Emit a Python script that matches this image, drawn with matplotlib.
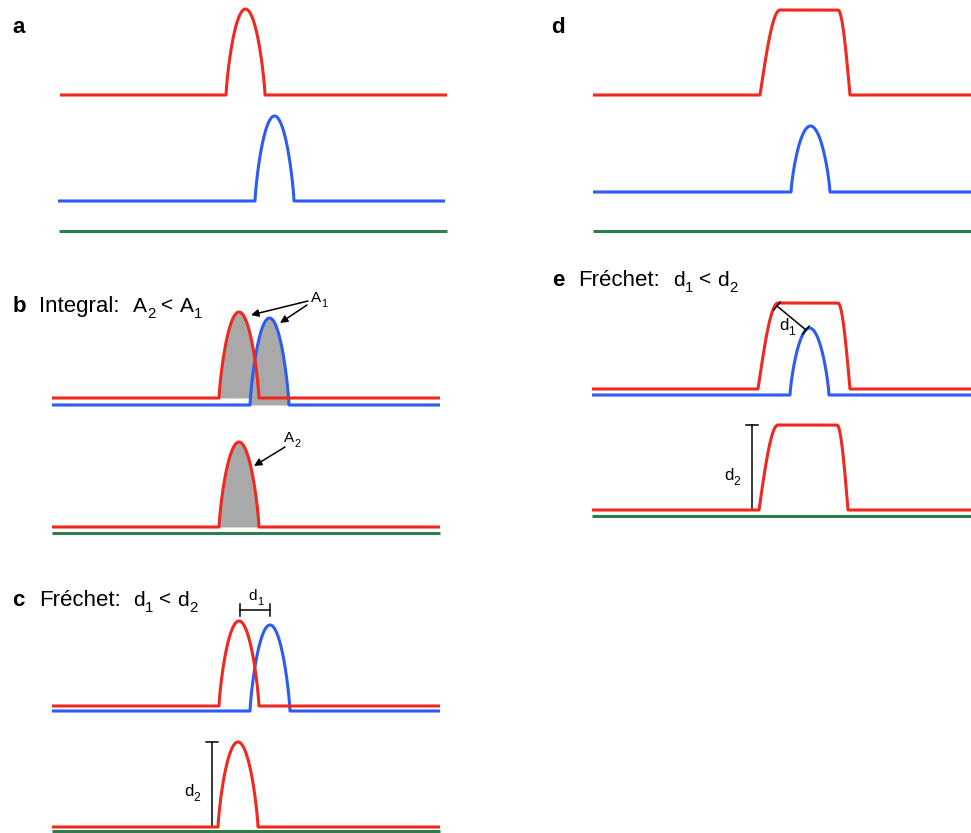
import numpy as np
import matplotlib
matplotlib.use("Agg")
import matplotlib.pyplot as plt

plt.rcParams["font.family"] = ["Liberation Sans", "DejaVu Sans"]

RED = "#f0281e"
BLUE = "#2b5cf4"
GREEN = "#2f7d4e"
GRAY = "#a9a9a9"
LW = 2.2

# ---- schematic traces (canvas units, y grows downward) ----
# bump traces: [baseline, line start, line end, pulse start, pulse end, pulse top]
a_red = [95, 60, 447, 226, 265, 9]
a_blue = [201, 58, 445, 255, 294, 116]
b1_red = [398, 52, 440, 219, 259, 312]
b1_blue = [405, 52, 440, 250, 289, 318]
b2_red = [527, 52, 440, 219, 259, 442]
c1_red = [706, 52, 440, 219, 259, 621]
c1_blue = [711, 52, 440, 250, 290, 625]
c2_red = [827, 52, 440, 218, 258, 742]
d_blue = [192, 593, 971, 791, 830, 126]
e1_blue = [395, 592, 971, 790, 829, 328]

# plateau traces: [baseline, line start, line end, rise start, rise end, fall start, fall end, top]
d_red = [95, 593, 971, 760, 780, 838, 850, 10]
e1_red = [389, 592, 971, 758, 778, 838, 850, 303]
e2_red = [510, 592, 971, 759, 778, 837, 848, 425]

# flat reference traces: [level, line start, line end]
a_green = [231, 59, 447]
b2_green = [533, 52, 440]
c2_green = [831, 52, 440]
d_green = [231, 593, 971]
e2_green = [516, 592, 971]


def bump_trace(p, n=240):
    base, x0, x1, s, e, top = p
    u = np.linspace(-1, 1, n)
    px = (s + e) / 2 + u * (e - s) / 2
    py = base - (base - top) * np.clip(1 - u ** 2, 0, None) ** 0.8
    return np.r_[x0, px, x1], np.r_[base, py, base]


def plateau_trace(p, n=100):
    base, x0, x1, rs, re_, fs, fe, top = p
    h = base - top
    t = np.linspace(0, 1, n)
    rx = rs + t * (re_ - rs)
    ry = base - h * np.sin(np.pi * t / 2)
    fx = fs + t * (fe - fs)
    fy = base - h * np.cos(np.pi * t / 2)
    return np.r_[x0, rx, fx, x1], np.r_[base, ry, fy, base]


def flat_trace(p):
    y, x0, x1 = p
    return np.array([x0, x1]), np.array([y, y])


def draw(ax, xy, color, z=3):
    ax.plot(xy[0], xy[1], color=color, lw=LW, solid_capstyle="butt",
            solid_joinstyle="round", zorder=z)


def shade(ax, p):
    base, x0, x1, s, e, top = p
    x, y = bump_trace(p)
    m = (x >= s) & (x <= e)
    ax.fill_between(x[m], y[m], base, color=GRAY, lw=0, zorder=1)


fig = plt.figure(figsize=(9.71, 8.33), dpi=100)
ax = fig.add_axes([0, 0, 1, 1])
ax.set_xlim(0, 971)
ax.set_ylim(833, 0)
ax.axis("off")
renderer = fig.canvas.get_renderer()


def rich(x, y, parts, size, ha="left"):
    """Write text with subscripts; parts is a list of (text, is_subscript)."""
    px = size * 100 / 72
    items = []
    for s, sub in parts:
        fs = size * 0.72 if sub else size
        if s == " ":
            items.append((None, sub, fs, 0.3 * px))
            continue
        t = ax.text(0, 0, s, fontsize=fs)
        w = t.get_window_extent(renderer).width
        t.remove()
        items.append((s, sub, fs, w))
    total = sum(i[3] for i in items)
    cx = x - total / 2 if ha == "center" else x
    for s, sub, fs, w in items:
        if s is not None:
            ax.text(cx, y + (0.3 * px if sub else 0), s, fontsize=fs,
                    ha="left", va="baseline")
        cx += w


gaps = [(" ", False)]


def formula(a, sa, b, sb):
    return [(a, False), (sa, True)] + gaps + [("<", False)] + gaps + [(b, False), (sb, True)]


# gray integral areas in panel b
shade(ax, b1_red)
shade(ax, b1_blue)
shade(ax, b2_red)

for p in (a_green, b2_green, c2_green, d_green, e2_green):
    draw(ax, flat_trace(p), GREEN, 2)
for p in (a_blue, b1_blue, c1_blue, d_blue, e1_blue):
    draw(ax, bump_trace(p), BLUE, 3)
for p in (a_red, b1_red, b2_red, c1_red, c2_red):
    draw(ax, bump_trace(p), RED, 4)
for p in (d_red, e1_red, e2_red):
    draw(ax, plateau_trace(p), RED, 4)

# panel letters and headings
big, mid, small = 16, 15, 11
for letter, x, y in (("a", 12, 33), ("d", 551, 33), ("b", 13, 312),
                     ("c", 12, 606), ("e", 552, 286)):
    ax.text(x, y, letter, fontsize=16, fontweight="bold", ha="left", va="baseline")

ax.text(39, 312, "Integral:", fontsize=big, ha="left", va="baseline")
rich(133, 312, formula("A", "2", "A", "1"), mid)
ax.text(39, 606, "Fréchet:", fontsize=big, ha="left", va="baseline")
rich(133, 606, formula("d", "1", "d", "2"), mid)
ax.text(578, 286, "Fréchet:", fontsize=big, ha="left", va="baseline")
rich(673, 286, formula("d", "1", "d", "2"), mid)

# area annotations
arrow = dict(arrowstyle="-|>", color="black", lw=1.1, mutation_scale=11,
             shrinkA=0, shrinkB=0)
rich(319, 302, [("A", False), ("1", True)], small, ha="center")
ax.annotate("", xy=(251, 315), xytext=(308, 301), arrowprops=arrow)
ax.annotate("", xy=(280, 323), xytext=(307, 305), arrowprops=arrow)
rich(292, 442, [("A", False), ("2", True)], small, ha="center")
ax.annotate("", xy=(254, 466), xytext=(285, 447), arrowprops=arrow)


def hbar(x0, x1, y, cap=6):
    ax.plot([x0, x1], [y, y], color="black", lw=1.1, zorder=5)
    for x in (x0, x1):
        ax.plot([x, x], [y - cap, y + cap], color="black", lw=1.1, zorder=5)


def vbar(x, y0, y1, cap=6):
    ax.plot([x, x], [y0, y1], color="black", lw=1.1, zorder=1)
    for y in (y0, y1):
        ax.plot([x - cap, x + cap], [y, y], color="black", lw=1.1, zorder=1)


def dbar(x0, y0, x1, y1, cap=5):
    ax.plot([x0, x1], [y0, y1], color="black", lw=1.1, zorder=5)
    dx, dy = x1 - x0, y1 - y0
    n = np.hypot(dx, dy)
    nx, ny = -dy / n, dx / n
    for x, y in ((x0, y0), (x1, y1)):
        ax.plot([x - cap * nx, x + cap * nx], [y - cap * ny, y + cap * ny],
                color="black", lw=1.1, zorder=5)


# distance markers
hbar(240, 270, 610)
rich(256, 600, [("d", False), ("1", True)], small, ha="center")
vbar(212, 742, 827)
rich(192, 796, [("d", False), ("2", True)], small + 1, ha="center")
dbar(777, 306, 806, 330)
rich(787, 330, [("d", False), ("1", True)], small + 1, ha="center")
vbar(752, 425, 510)
rich(732, 480, [("d", False), ("2", True)], small + 1, ha="center")

fig.savefig("out.png", dpi=100)
